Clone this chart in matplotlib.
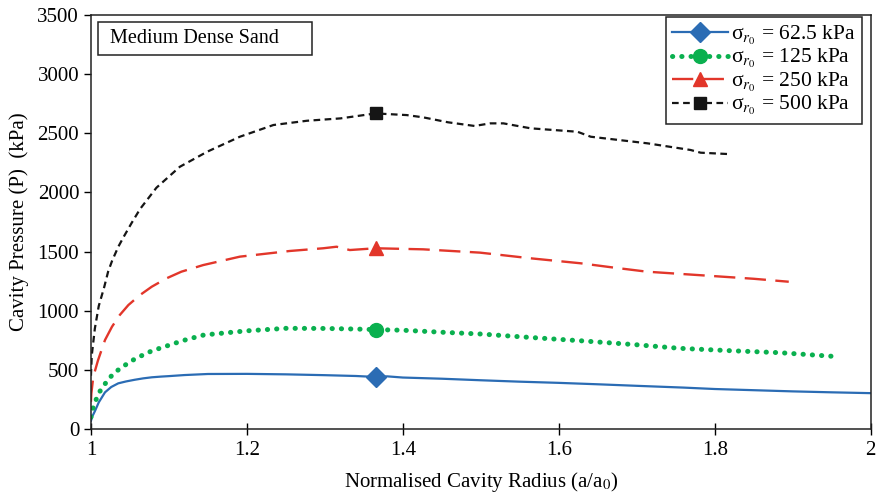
import numpy as np
import matplotlib
matplotlib.use("Agg")
import matplotlib.pyplot as plt
from matplotlib.patches import Rectangle

# values
x_625 = [1.0, 1.002, 1.005, 1.01, 1.018, 1.026, 1.035, 1.045, 1.056, 1.067, 1.078, 1.09, 1.1,
         1.12, 1.15, 1.2, 1.25, 1.3, 1.34, 1.365, 1.38, 1.4, 1.45, 1.5, 1.55, 1.6, 1.65,
         1.7, 1.76, 1.8, 1.85, 1.9, 1.95, 2.0]
p_625 = [70, 110, 150, 225, 310, 355, 386, 402, 416, 428, 437, 443, 447,
         456, 465, 466, 462, 455, 448, 440, 445, 435, 425, 412, 400, 390, 378,
         365, 350, 338, 328, 318, 310, 303]

x_125 = [1.0, 1.001, 1.005, 1.01, 1.017, 1.024, 1.033, 1.044, 1.054, 1.065, 1.076, 1.088, 1.1,
         1.11, 1.122, 1.145, 1.2, 1.25, 1.3, 1.34, 1.365, 1.4, 1.45, 1.5, 1.55, 1.6, 1.628,
         1.7, 1.755, 1.82, 1.884, 1.959]
p_125 = [100, 146, 222, 304, 372, 434, 490, 541, 583, 620, 654, 682, 708,
         730, 755, 795, 830, 851, 850, 845, 840, 835, 818, 803, 780, 758, 746,
         712, 682, 662, 645, 611]

x_250 = [1.0, 1.0005, 1.003, 1.009, 1.018, 1.027, 1.037, 1.048, 1.063, 1.078, 1.097, 1.116,
         1.144, 1.191, 1.255, 1.298, 1.315, 1.332, 1.365, 1.426, 1.499, 1.564, 1.628, 1.67,
         1.713, 1.798, 1.85, 1.895]
p_250 = [230, 300, 442, 580, 752, 865, 964, 1048, 1133, 1203, 1274, 1330,
         1386, 1457, 1505, 1528, 1541, 1513, 1528, 1519, 1491, 1443, 1401, 1365,
         1330, 1293, 1270, 1245]

x_500 = [1.0, 1.001, 1.005, 1.01, 1.017, 1.022, 1.027, 1.035, 1.042, 1.052, 1.063, 1.084,
         1.114, 1.149, 1.191, 1.234, 1.277, 1.32, 1.365, 1.405, 1.426, 1.458, 1.492, 1.512,
         1.529, 1.564, 1.624, 1.641, 1.714, 1.769, 1.782, 1.816]
p_500 = [450, 620, 850, 1040, 1200, 1330, 1420, 1540, 1625, 1740, 1860, 2040,
         2217, 2344, 2471, 2570, 2606, 2626, 2668, 2654, 2635, 2593, 2562, 2584,
         2584, 2542, 2513, 2471, 2415, 2359, 2336, 2325]

labels = ["σ$_{r_0}$ = 62.5 kPa", "σ$_{r_0}$ = 125 kPa",
          "σ$_{r_0}$ = 250 kPa", "σ$_{r_0}$ = 500 kPa"]

plt.rcParams["font.family"] = "Liberation Serif"
plt.rcParams["mathtext.fontset"] = "stix"

fig = plt.figure(figsize=(8.78, 4.94), dpi=100)
ax = fig.add_axes([0.1036, 0.1316, 0.888, 0.838])

def mark_at(xs, xv=1.365):
    return [int(np.argmin(np.abs(np.array(xs) - xv)))]

ax.plot(x_625, p_625, color="#2b6cb4", lw=1.6, marker="D", ms=10,
        markevery=mark_at(x_625), label=labels[0])
ax.plot(x_125, p_125, color="#0ab04f", lw=3.6, linestyle=(0, (0.05, 1.8)),
        dash_capstyle="round", marker="o", ms=10, markevery=mark_at(x_125),
        label=labels[1])
ax.plot(x_250, p_250, color="#e2362a", lw=1.7, linestyle=(0, (9, 4)),
        marker="^", ms=10, markevery=mark_at(x_250), label=labels[2])
ax.plot(x_500, p_500, color="#151515", lw=1.6, linestyle=(0, (3, 2)),
        marker="s", ms=9, markevery=mark_at(x_500), label=labels[3])

ax.set_xlim(1, 2)
ax.set_ylim(0, 3500)
ax.set_xticks(np.arange(1, 2.01, 0.2))
ax.set_xticklabels(["1", "1.2", "1.4", "1.6", "1.8", "2"])
ax.set_yticks(np.arange(0, 3501, 500))
ax.tick_params(axis="x", direction="inout", length=8, width=1, labelsize=15, pad=5)
ax.tick_params(axis="y", direction="out", length=5, width=1, labelsize=15)
for s in ax.spines.values():
    s.set_linewidth(1.1)
    s.set_color("#222222")

ax.set_xlabel(r"Normalised Cavity Radius (a/a$_0$)", fontsize=15, labelpad=7)
ax.set_ylabel("Cavity Pressure (P)  (kPa)", fontsize=15, labelpad=6)

ax.add_patch(Rectangle((0.009, 0.903), 0.274, 0.080, transform=ax.transAxes,
                       fill=False, edgecolor="#222222", lw=1.1))
ax.text(0.024, 0.943, "Medium Dense Sand", transform=ax.transAxes,
        fontsize=14.5, va="center", ha="left")

leg = ax.legend(loc="upper right", bbox_to_anchor=(0.9885, 0.995), borderaxespad=0,
                fontsize=15.5, handlelength=2.6, handletextpad=0.1,
                labelspacing=0.02, fancybox=False,
                edgecolor="#222222", framealpha=1, borderpad=0.3)
leg.get_frame().set_linewidth(1.1)

fig.savefig("out.png", dpi=100)
